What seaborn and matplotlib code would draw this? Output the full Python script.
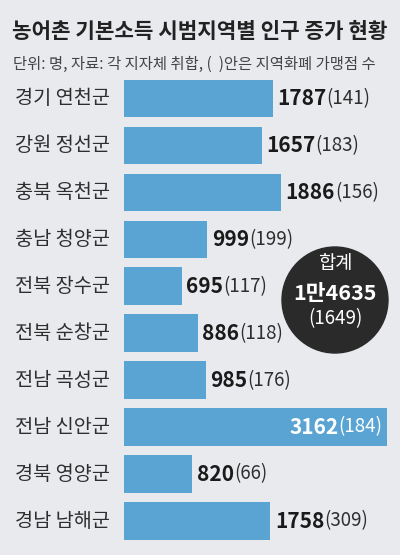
import matplotlib
matplotlib.use("Agg")
import matplotlib.pyplot as plt
import matplotlib.transforms as mtransforms
import seaborn as sns
from matplotlib.patches import Ellipse

# 데이터
regions = ["경기 연천군", "강원 정선군", "충북 옥천군", "충남 청양군", "전북 장수군",
           "전북 순창군", "전남 곡성군", "전남 신안군", "경북 영양군", "경남 남해군"]
population = [1787, 1657, 1886, 999, 695, 886, 985, 3162, 820, 1758]
stores = [141, 183, 156, 199, 117, 118, 176, 184, 66, 309]
total_pop = "1만4635"
total_stores = 1649

BG = "#e8eaee"
BAR = "#5aa4d4"
TXT = "#2e2e2e"

sns.set_theme(style="white")
plt.rcParams["font.family"] = ["Noto Sans CJK KR", "DejaVu Sans"]

W, H = 400, 555
fig = plt.figure(figsize=(4, 5.55), dpi=100, facecolor=BG)
ax = fig.add_axes([124 / W, 1 - 544.5 / H, 1 - 124 / W, (544.5 - 75) / H])
ax.set_facecolor(BG)

sns.barplot(x=population, y=regions, orient="h", color=BAR, width=0.8,
            saturation=1, linewidth=0, ax=ax)
ax.set_xlim(0, 3318)
ax.set_ylim(len(regions) - 0.5, -0.5)
ax.axis("off")

# 제목
fig.text(12 / W, 1 - 32 / H, "농어촌 기본소득 시범지역별 인구 증가 현황",
         fontsize=15.3, fontweight="bold", color="#222222", va="center", ha="left")
fig.text(13 / W, 1 - 64 / H, "단위: 명, 자료: 각 지자체 취합, (  )안은 지역화폐 가맹점 수",
         fontsize=11.1, color="#444444", va="center", ha="left")

# 지역 이름
lab_tr = mtransforms.blended_transform_factory(fig.transFigure, ax.transData)
for i, name in enumerate(regions):
    ax.text(15 / W, i, name, transform=lab_tr, fontsize=14.2,
            color=TXT, va="center", ha="left")

fig.canvas.draw()
r = fig.canvas.get_renderer()
inv = ax.transData.inverted()

for i, (v, s) in enumerate(zip(population, stores)):
    if v == max(population):
        # 막대 안쪽 (흰 글씨)
        t2 = ax.text(v - 55, i, f"({s})", fontsize=13.5, fontweight="light", color="white",
                     va="center", ha="right")
        bb = t2.get_window_extent(r)
        x0 = inv.transform((bb.x0, 0))[0]
        ax.text(x0, i, f"{v}", fontsize=15, fontweight="black", color="white",
                va="center", ha="right")
    else:
        t1 = ax.text(v + 55, i, f"{v}", fontsize=15, fontweight="black", color="#1a1a1a",
                     va="center", ha="left")
        bb = t1.get_window_extent(r)
        x1 = inv.transform((bb.x1, 0))[0]
        ax.text(x1, i, f"({s})", fontsize=13.5, fontweight="light", color=TXT,
                va="center", ha="left")

# 합계 원
cx, cy, rad = 335, 300, 53
fig.add_artist(Ellipse((cx / W, 1 - cy / H), 2 * rad / W, 2 * rad / H,
                       transform=fig.transFigure, color="#2b2a2b", zorder=5))
fig.text(cx / W, 1 - 264 / H, "합계", fontsize=13.5, color="white", ha="center",
         va="center", zorder=6)
fig.text(cx / W, 1 - 293 / H, total_pop, fontsize=15.5, fontweight="black",
         color="white", ha="center", va="center", zorder=6)
fig.text(cx / W, 1 - 319 / H, f"({total_stores})", fontsize=13.5, fontweight="light",
         color="white", ha="center", va="center", zorder=6)

fig.savefig("out.png", dpi=100, facecolor=BG)
